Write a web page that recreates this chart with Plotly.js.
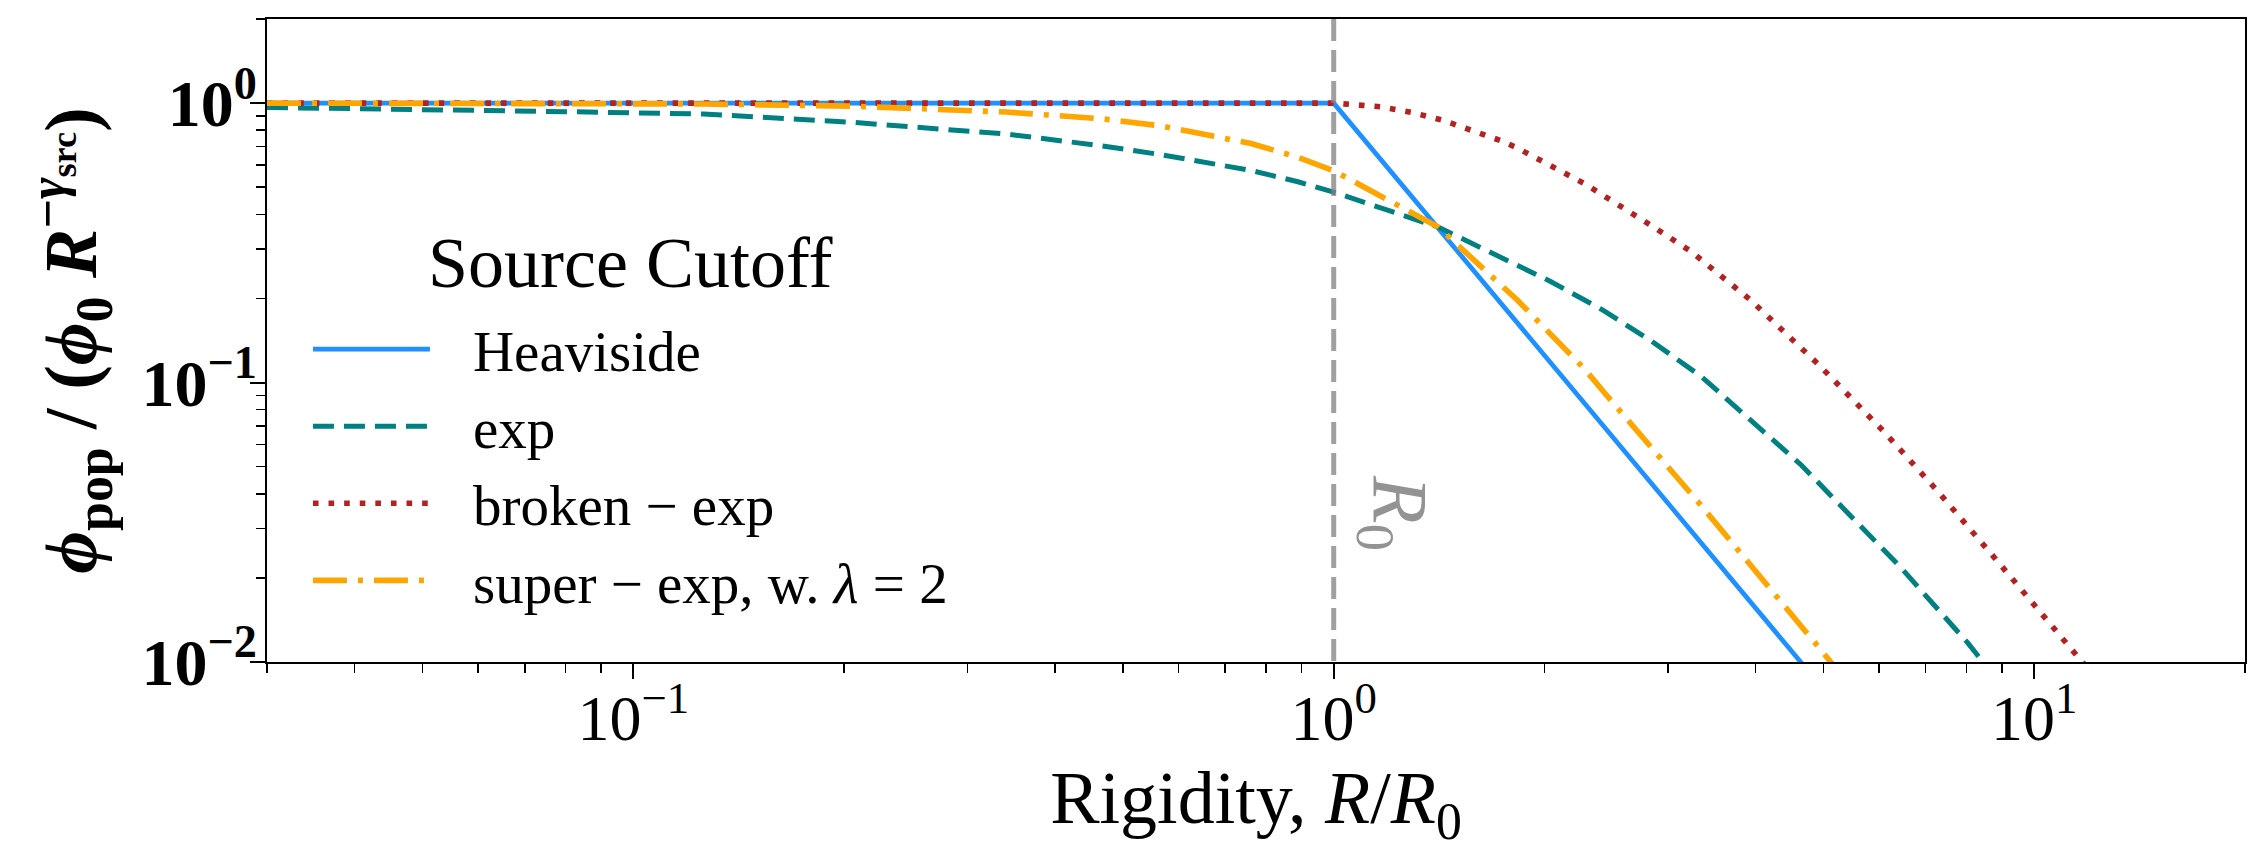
<!DOCTYPE html>
<html>
<head>
<meta charset="utf-8">
<script src="https://cdn.plot.ly/plotly-3.0.1.min.js"></script>
<style>
  html, body { margin: 0; padding: 0; background: #ffffff; }
  #chart { width: 2265px; height: 850px; }
</style>
</head>
<body>
<div id="chart"></div>
<script>
// ---------- data ----------
const seriesNames = ['Heaviside', 'exp', 'broken − exp', 'super − exp, w. <i>λ</i> = 2'];

const heavisideX = [0.03, 1.0, 5.0];
const heavisideY = [1.0, 1.0, 0.008];

const expX = [0.03, 0.05, 0.08, 0.126, 0.206, 0.341, 0.467, 0.564, 0.76, 0.889, 1.0, 1.41, 2.04, 2.41, 2.84, 3.35, 4.65, 6.46, 8.04, 8.9];
const expY = [0.965, 0.95, 0.932, 0.914, 0.853, 0.775, 0.703, 0.655, 0.575, 0.523, 0.48, 0.36, 0.23, 0.183, 0.141, 0.105, 0.0507, 0.0217, 0.0117, 0.0085];

const brokenX = [0.03, 1.0, 1.167, 1.29, 1.43, 1.58, 1.74, 1.83, 2.28, 2.84, 3.24, 3.94, 4.93, 6.11, 7.26, 8.87, 12.9];
const brokenY = [1.0, 1.0, 0.97, 0.927, 0.869, 0.80, 0.731, 0.69, 0.515, 0.365, 0.294, 0.197, 0.1156, 0.0665, 0.0412, 0.0229, 0.0075];

const superX = [0.03, 0.126, 0.206, 0.341, 0.467, 0.564, 0.76, 0.889, 1.0, 1.41, 1.83, 2.28, 2.43, 2.79, 3.34, 4.91, 5.4];
const superY = [1.0, 0.993, 0.975, 0.929, 0.879, 0.83, 0.718, 0.64, 0.573, 0.36, 0.197, 0.112, 0.0925, 0.0622, 0.0365, 0.0114, 0.0085];

const R0 = 1;                      // reference rigidity marked by the vertical line
const xMin = 0.03, xMax = 20;      // axis limits
const yMin = 0.01, yMax = 2;

const xTickVals = [0.1, 1, 10];
const xTickText = ['10<sup>−1</sup>', '10<sup>0</sup>', '10<sup>1</sup>'];
const yTickVals = [0.01, 0.1, 1];
const yTickText = ['10<sup>−2</sup>', '10<sup>−1</sup>', '10<sup>0</sup>'];

// ---------- traces ----------
const FONT = '"Liberation Serif", "DejaVu Serif", serif';
const traces = [
  { x: heavisideX, y: heavisideY, name: seriesNames[0], mode: 'lines',
    line: { color: '#1E90FF', width: 4.7 } },
  { x: expX, y: expY, name: seriesNames[1], mode: 'lines',
    line: { color: '#008080', width: 5, dash: '21px,10px' } },
  { x: brokenX, y: brokenY, name: seriesNames[2], mode: 'lines',
    line: { color: '#B22222', width: 5.6, dash: '5.6px,10px' } },
  { x: superX, y: superY, name: seriesNames[3], mode: 'lines',
    line: { color: '#FFA500', width: 5.6, dash: '34px,11px,5px,11px' } },
  { x: [R0, R0], y: [yMax, yMin], mode: 'lines', showlegend: false, hoverinfo: 'skip',
    line: { color: 'rgba(128,128,128,0.75)', width: 5, dash: '22px,9px' } }
];

const minorTicks = { dtick: 'D1', ticks: 'outside', ticklen: 9, tickwidth: 1.5, tickcolor: '#000', showgrid: false };

const layout = {
  width: 2265, height: 850,
  margin: { l: 267, r: 20, t: 19, b: 188, pad: 0 },
  paper_bgcolor: '#ffffff', plot_bgcolor: '#ffffff',
  font: { family: FONT, color: '#000000' },
  showlegend: true,
  xaxis: {
    type: 'log', range: [Math.log10(xMin), Math.log10(xMax)],
    showgrid: false, zeroline: false, showline: true, mirror: true,
    linecolor: '#000', linewidth: 2,
    ticks: 'outside', ticklen: 15, tickwidth: 2, tickcolor: '#000',
    tickmode: 'array', tickvals: xTickVals, ticktext: xTickText,
    tickfont: { family: FONT, size: 64, color: '#000' },
    ticklabelstandoff: -16,
    minor: minorTicks,
    title: { text: 'Rigidity, <i>R</i>/<i>R</i><sub>0</sub>', font: { family: FONT, size: 74, color: '#000' }, standoff: 40 }
  },
  yaxis: {
    type: 'log', range: [Math.log10(yMin), Math.log10(yMax)],
    showgrid: false, zeroline: false, showline: true, mirror: true,
    linecolor: '#000', linewidth: 2,
    ticks: 'outside', ticklen: 15, tickwidth: 2, tickcolor: '#000',
    tickmode: 'array', tickvals: yTickVals, ticktext: yTickText,
    tickfont: { family: FONT, size: 66, color: '#000', weight: 'bold' },
    ticklabelstandoff: -20,
    minor: minorTicks,
    title: { text: '<i>ϕ</i><sub>pop</sub> / (<i>ϕ</i><sub>0</sub> <i>R</i><sup>−<i>γ</i><sub>src</sub></sup>)',
             font: { family: FONT, size: 74, color: '#000', weight: 'bold' }, standoff: 20 }
  },
  legend: {
    x: 0.0207, xanchor: 'left', y: 0.70, yanchor: 'top',
    bgcolor: 'rgba(0,0,0,0)', borderwidth: 0,
    font: { family: FONT, size: 57, color: '#000' },
    title: { text: 'Source Cutoff', font: { family: FONT, size: 72, color: '#000' }, side: 'top' },
    tracegroupgap: 0, itemwidth: 30
  },
  annotations: [{
    x: Math.log10(R0), xref: 'x', xanchor: 'left', xshift: 10,
    y: 0.232, yref: 'paper', yanchor: 'middle',
    text: '<i>R</i><sub>0</sub>', showarrow: false, textangle: 90,
    font: { family: FONT, size: 78, color: 'rgba(128,128,128,0.85)' }
  }]
};

Plotly.newPlot('chart', traces, layout, { staticPlot: true, displayModeBar: false }).then(function (gd) {
  const lg = gd.querySelector('.legend');
  if (!lg) return;
  lg.querySelectorAll('[clip-path]').forEach(function (e) { e.removeAttribute('clip-path'); });
  const SAMPLE = 117, TEXTX = 165;
  lg.querySelectorAll('.traces').forEach(function (tr) {
    tr.querySelectorAll('.legendlines path').forEach(function (p) { p.setAttribute('d', 'M5,0h' + SAMPLE); });
    const t = tr.querySelector('.legendtext');
    if (t) {
      t.setAttribute('x', TEXTX);
      t.querySelectorAll('tspan[x]').forEach(function (s) { s.setAttribute('x', TEXTX); });
    }
  });
  const title = lg.querySelector('.legendtitletext');
  if (title) {
    let minL = Infinity, maxR = -Infinity;
    lg.querySelectorAll('.traces').forEach(function (tr) {
      [tr.querySelector('.legendlines path'), tr.querySelector('.legendtext')].forEach(function (el) {
        if (el) { const r = el.getBoundingClientRect(); minL = Math.min(minL, r.left); maxR = Math.max(maxR, r.right); }
      });
    });
    const tb = title.getBoundingClientRect();
    const shift = (minL + maxR) / 2 - (tb.left + tb.right) / 2;
    title.setAttribute('x', parseFloat(title.getAttribute('x') || 0) + shift);
    title.setAttribute('y', parseFloat(title.getAttribute('y') || 0) - 18);
  }
});
</script>
</body>
</html>
